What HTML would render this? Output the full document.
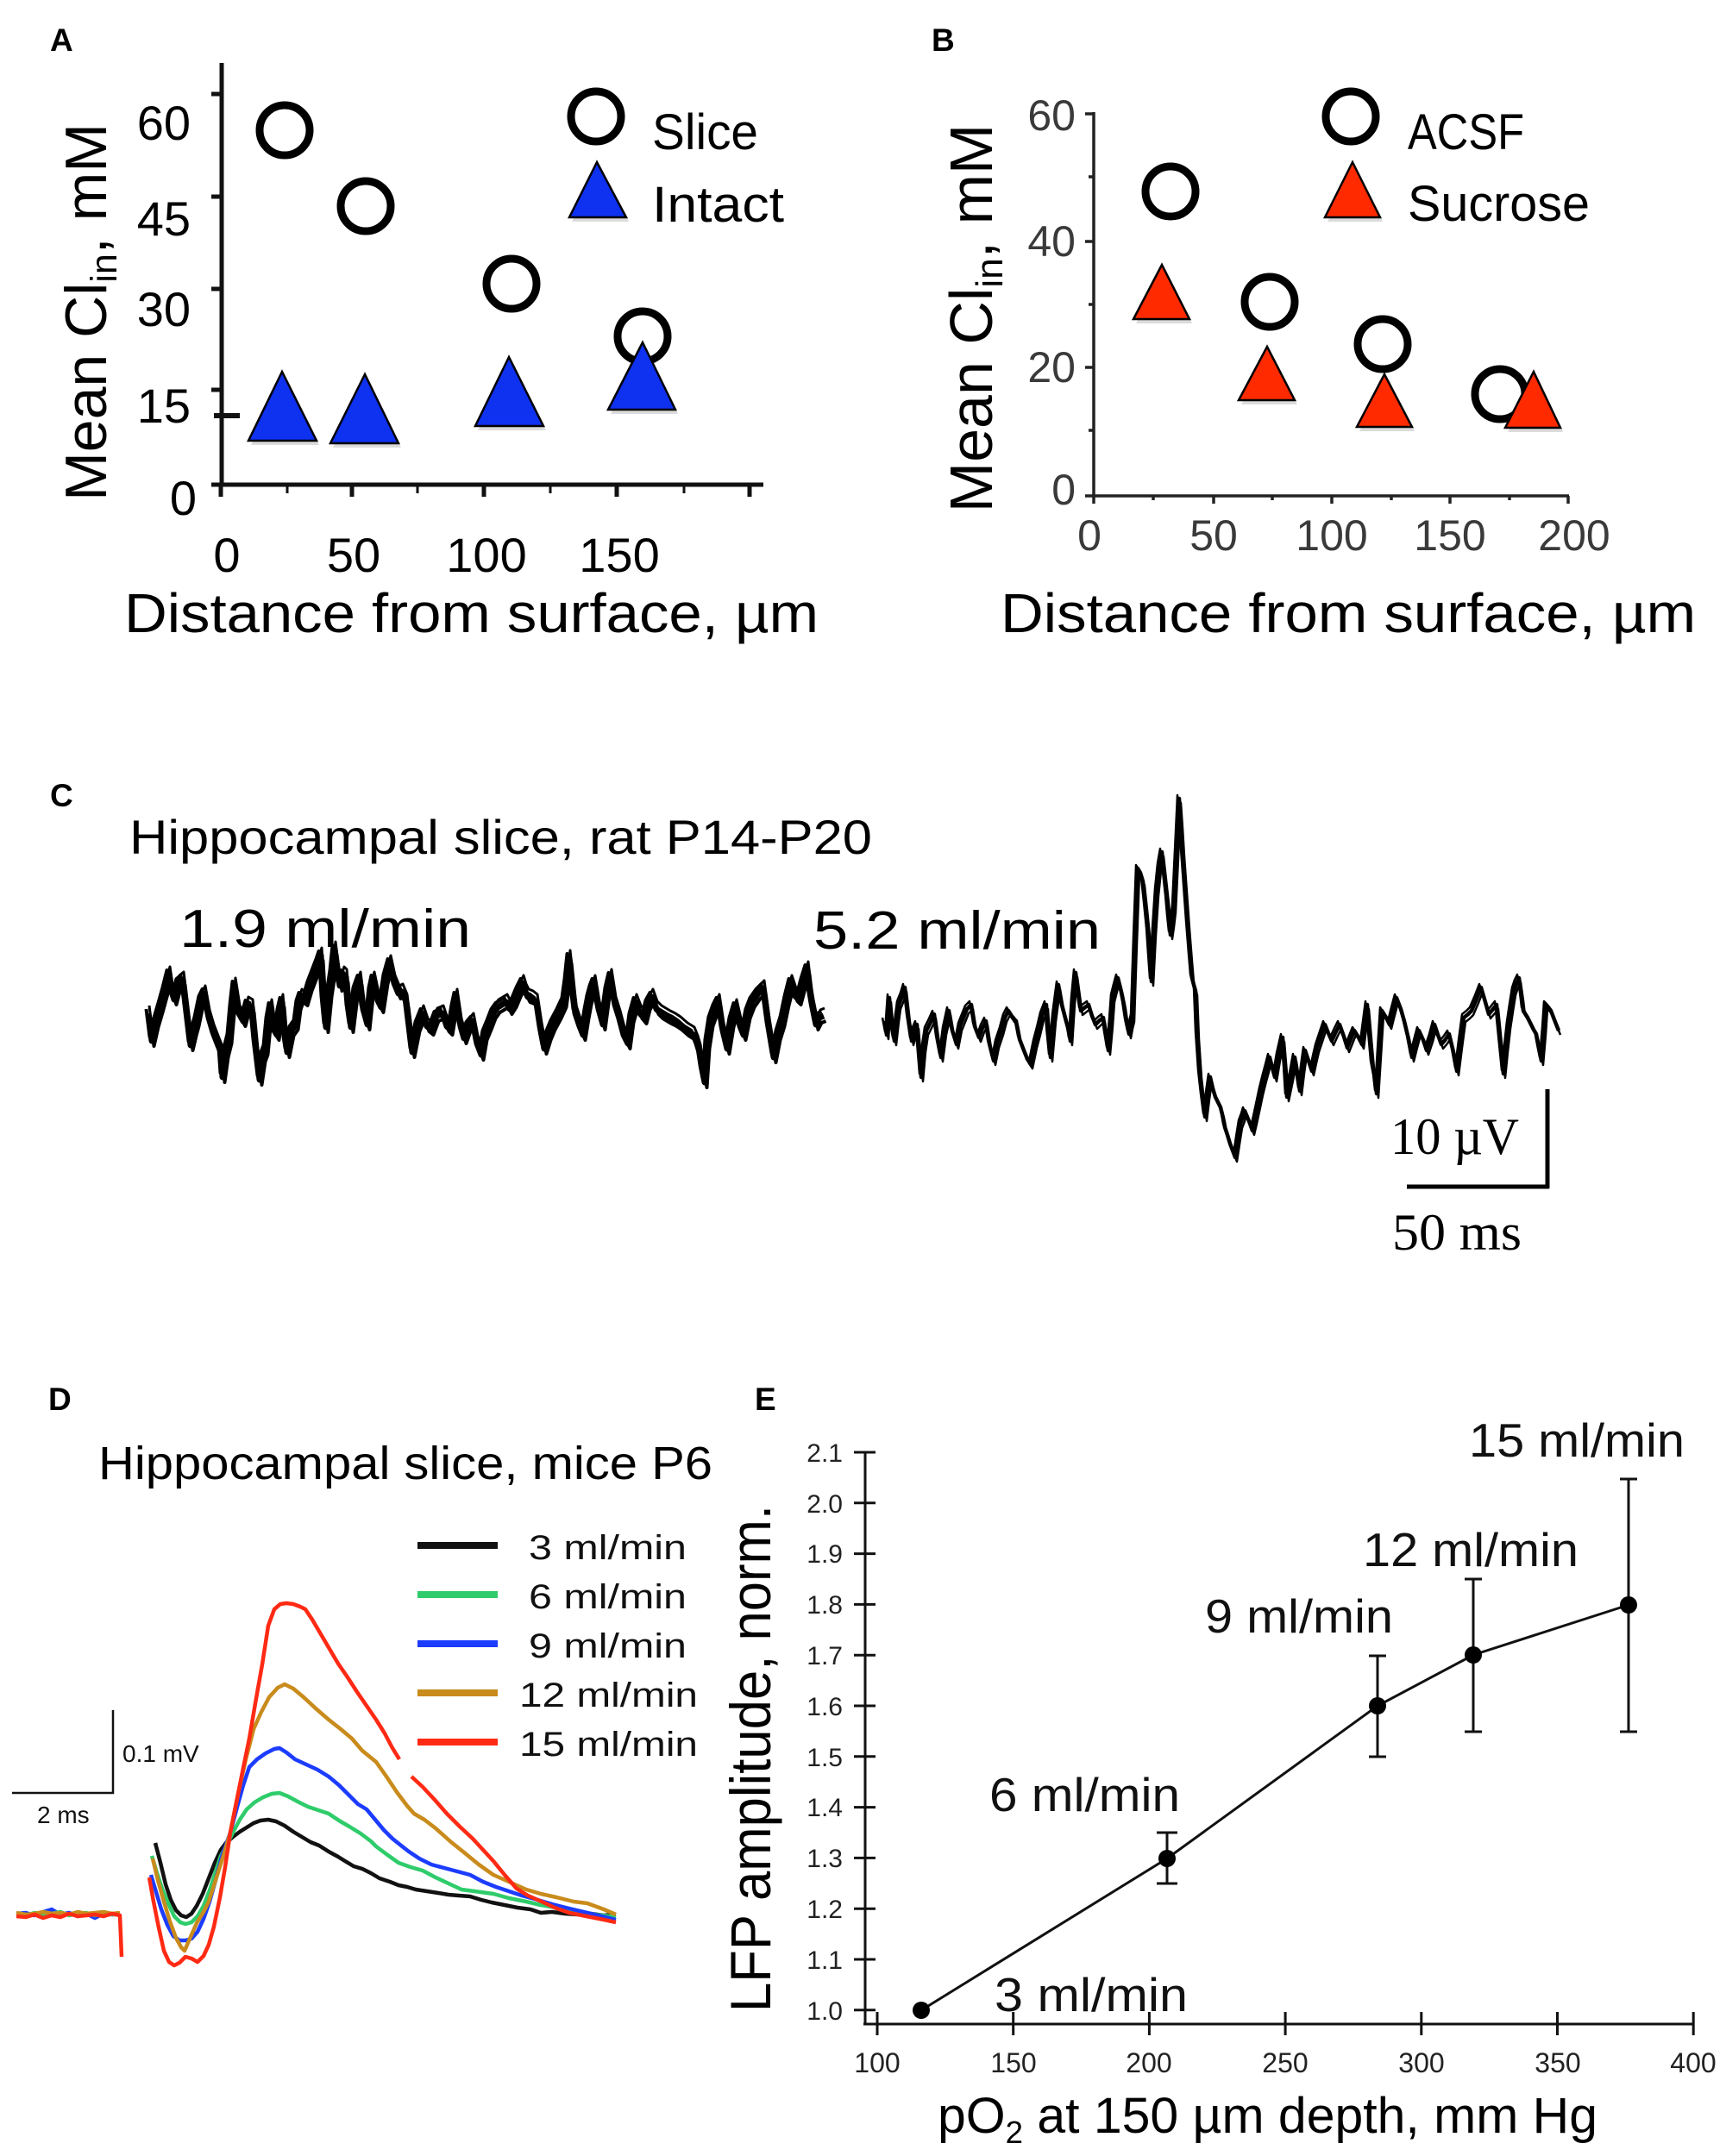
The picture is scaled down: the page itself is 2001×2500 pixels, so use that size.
<!DOCTYPE html>
<html><head><meta charset="utf-8"><style>
html,body{margin:0;padding:0;background:#fff;}
svg{display:block;}
text{font-family:"Liberation Sans",Arial,sans-serif;}
.serif{font-family:"Liberation Serif","Times New Roman",serif;}
</style></head><body>
<svg width="2001" height="2500" viewBox="0 0 2001 2500" xmlns="http://www.w3.org/2000/svg">
<defs>
<path id="tr1" d="M172,1175 L176,1207 L181,1185 L186,1168 L191,1150 L196,1130 L199,1150 L202,1159 L207,1140 L212,1136 L216,1170 L221,1212 L225,1195 L228,1184 L233,1160 L237,1152 L242,1180 L247,1197 L252,1210 L256,1220 L258,1249 L262,1220 L266,1204 L269,1170 L272,1143 L277,1175 L282,1184 L287,1165 L292,1168 L296,1210 L301,1252 L305,1225 L308,1217 L311,1185 L314,1168 L318,1195 L321,1200 L324,1175 L327,1162 L330,1200 L333,1220 L338,1195 L343,1188 L346,1165 L349,1156 L354,1160 L359,1143 L364,1130 L369,1117 L372,1108 L375,1160 L378,1191 L382,1150 L385,1130 L388,1101 L391,1125 L394,1143 L398,1130 L401,1133 L404,1170 L407,1191 L412,1150 L417,1136 L421,1170 L426,1188 L430,1150 L433,1136 L438,1160 L442,1168 L447,1135 L452,1117 L457,1140 L462,1152 L466,1150 L471,1162 L475,1195 L478,1220 L484,1190 L490,1175 L495,1190 L500,1194 L506,1178 L513,1175 L518,1190 L522,1194 L526,1170 L529,1156 L534,1190 L538,1204 L543,1190 L548,1184 L553,1210 L558,1223 L562,1200 L567,1188 L572,1175 L577,1168 L582,1165 L587,1162 L591,1170 L596,1162 L601,1150 L606,1140 L609,1150 L612,1156 L617,1158 L622,1162 L627,1195 L631,1216 L636,1200 L641,1188 L648,1175 L654,1162 L657,1140 L660,1111 L664,1150 L667,1175 L672,1190 L676,1200 L680,1175 L683,1159 L686,1148 L689,1140 L694,1170 L699,1188 L704,1150 L708,1133 L713,1165 L718,1181 L723,1200 L728,1210 L732,1180 L737,1162 L742,1175 L747,1181 L751,1165 L756,1156 L761,1170 L766,1175 L771,1178 L776,1181 L782,1184 L788,1188 L796,1195 L804,1200 L808,1210 L811,1220 L814,1240 L817,1255 L820,1210 L824,1184 L829,1170 L833,1162 L838,1195 L843,1216 L848,1185 L853,1168 L858,1190 L862,1200 L867,1175 L872,1162 L879,1152 L885,1146 L891,1190 L897,1226 L902,1200 L907,1184 L912,1160 L917,1140 L922,1155 L926,1159 L931,1140 L936,1124 L939,1150 L942,1168 L946,1188 L950,1180 L955,1178"/>
<path id="tr2" d="M1025,1184 L1028,1200 L1031,1157 L1034,1190 L1037,1207 L1040,1180 L1042,1165 L1046,1155 L1049,1145 L1053,1180 L1057,1207 L1060,1195 L1063,1188 L1066,1225 L1068,1249 L1071,1215 L1074,1195 L1079,1185 L1083,1176 L1087,1205 L1091,1226 L1095,1195 L1100,1172 L1104,1195 L1109,1211 L1113,1190 L1117,1180 L1121,1170 L1126,1165 L1130,1190 L1135,1203 L1139,1192 L1143,1184 L1147,1210 L1152,1230 L1156,1210 L1161,1195 L1165,1180 L1169,1172 L1174,1180 L1178,1184 L1182,1205 L1187,1218 L1191,1228 L1195,1234 L1200,1210 L1204,1195 L1208,1178 L1213,1165 L1215,1195 L1218,1226 L1222,1180 L1227,1142 L1231,1165 L1236,1184 L1239,1195 L1241,1207 L1244,1160 L1247,1128 L1250,1150 L1253,1172 L1258,1168 L1262,1165 L1266,1178 L1270,1188 L1275,1183 L1279,1180 L1282,1200 L1285,1218 L1288,1185 L1290,1157 L1293,1145 L1296,1134 L1300,1150 L1303,1165 L1306,1185 L1309,1199 L1311,1188 L1313,1180 L1316,1090 L1319,1007 L1322,1012 L1325,1022 L1328,1050 L1331,1080 L1333,1110 L1335,1138 L1338,1080 L1341,1034 L1344,1005 L1347,988 L1350,1015 L1353,1042 L1355,1065 L1357,1084 L1359,1070 L1361,1053 L1364,990 L1367,926 L1369,955 L1371,988 L1374,1030 L1377,1072 L1380,1110 L1382,1134 L1384,1142 L1386,1149 L1388,1200 L1391,1245 L1394,1272 L1397,1295 L1400,1270 L1403,1249 L1406,1262 L1409,1272 L1412,1278 L1415,1284 L1418,1296 L1420,1307 L1423,1316 L1426,1326 L1429,1334 L1432,1342 L1435,1322 L1438,1303 L1441,1295 L1443,1288 L1448,1300 L1452,1311 L1455,1298 L1458,1284 L1462,1265 L1466,1249 L1469,1238 L1472,1226 L1475,1238 L1478,1249 L1482,1225 L1487,1203 L1490,1240 L1492,1272 L1497,1248 L1501,1226 L1504,1245 L1507,1265 L1510,1240 L1513,1218 L1517,1230 L1521,1242 L1524,1228 L1527,1215 L1532,1200 L1536,1188 L1540,1198 L1544,1207 L1549,1196 L1553,1188 L1558,1202 L1562,1215 L1566,1205 L1570,1195 L1575,1203 L1579,1211 L1582,1188 L1585,1165 L1588,1200 L1591,1234 L1594,1250 L1596,1268 L1599,1220 L1602,1172 L1607,1180 L1611,1188 L1615,1172 L1619,1157 L1624,1170 L1628,1184 L1633,1205 L1637,1226 L1641,1210 L1645,1195 L1650,1206 L1654,1218 L1659,1203 L1663,1188 L1667,1200 L1671,1211 L1676,1205 L1680,1199 L1685,1220 L1689,1242 L1693,1210 L1697,1180 L1702,1176 L1706,1172 L1712,1158 L1717,1145 L1722,1162 L1726,1176 L1731,1170 L1735,1165 L1739,1205 L1743,1245 L1746,1215 L1749,1188 L1752,1168 L1755,1149 L1758,1140 L1761,1134 L1764,1155 L1766,1172 L1771,1180 L1775,1188 L1778,1194 L1781,1199 L1784,1215 L1787,1230 L1790,1195 L1792,1165 L1795,1168 L1798,1172 L1803,1185 L1807,1195"/>
</defs>
<rect width="2001" height="2500" fill="#fff"/>

<!-- Panel labels -->
<g font-weight="bold" font-size="37" fill="#000">
<text x="58" y="59">A</text>
<text x="1080" y="59">B</text>
<text x="58" y="935">C</text>
<text x="56" y="1635">D</text>
<text x="875" y="1635">E</text>
</g>

<!-- ============ PANEL A ============ -->
<g stroke="#111" stroke-width="5" fill="none">
<line x1="257" y1="73" x2="257" y2="564"/>
<line x1="255" y1="562" x2="885" y2="562"/>
<line x1="245" y1="109" x2="259" y2="109"/>
<line x1="245" y1="228" x2="259" y2="228"/>
<line x1="245" y1="335" x2="259" y2="335"/>
<line x1="245" y1="452" x2="259" y2="452"/>
<line x1="245" y1="562" x2="259" y2="562"/>
<line x1="248" y1="482" x2="278" y2="482" stroke-width="6"/>
<line x1="256" y1="562" x2="256" y2="576"/>
<line x1="408" y1="562" x2="408" y2="576"/>
<line x1="561" y1="562" x2="561" y2="576"/>
<line x1="715" y1="562" x2="715" y2="576"/>
<line x1="869" y1="562" x2="869" y2="576"/>
<line x1="333" y1="562" x2="333" y2="572" stroke-width="3"/>
<line x1="484" y1="562" x2="484" y2="572" stroke-width="3"/>
<line x1="638" y1="562" x2="638" y2="572" stroke-width="3"/>
<line x1="793" y1="562" x2="793" y2="572" stroke-width="3"/>
</g>
<g font-size="56" fill="#000" text-anchor="end">
<text x="221" y="162">60</text>
<text x="221" y="273">45</text>
<text x="221" y="378">30</text>
<text x="221" y="490">15</text>
<text x="228" y="597">0</text>
</g>
<g font-size="56" fill="#000" text-anchor="middle">
<text x="263" y="663">0</text>
<text x="410" y="663">50</text>
<text x="564" y="663">100</text>
<text x="718" y="663">150</text>
</g>
<text x="144" y="733" font-size="64" textLength="805" lengthAdjust="spacingAndGlyphs">Distance from surface, µm</text>
<text transform="translate(123,362) rotate(-90)" text-anchor="middle" font-size="68">Mean Cl<tspan font-size="43" dy="12">in</tspan><tspan dy="-12">, mM</tspan></text>

<g fill="none" stroke="#000" stroke-width="9">
<circle cx="330" cy="151" r="29"/>
<circle cx="424" cy="239" r="29"/>
<circle cx="593" cy="329" r="29"/>
<circle cx="745" cy="390" r="29"/>
<circle cx="691" cy="135" r="29"/>
</g>
<g fill="#999" opacity="0.35">
<polygon points="330,436 291,516 370,516"/>
<polygon points="426,439 386,519 465,519"/>
<polygon points="593,419 554,499 633,499"/>
<polygon points="748,402 708,480 786,480"/>
<polygon points="695,193 663,257 729,257"/>
</g>
<g fill="#0f31f0" stroke="#000" stroke-width="2.5" stroke-linejoin="miter">
<polygon points="327,431 288,511 367,511"/>
<polygon points="423,434 383,514 462,514"/>
<polygon points="590,414 551,494 630,494"/>
<polygon points="745,397 705,475 783,475"/>
<polygon points="692,188 660,252 726,252"/>
</g>
<text x="756" y="173" font-size="58" textLength="123" lengthAdjust="spacingAndGlyphs">Slice</text>
<text x="756" y="257" font-size="58" textLength="153" lengthAdjust="spacingAndGlyphs">Intact</text>

<!-- ============ PANEL B ============ -->
<g stroke="#222" stroke-width="3.5" fill="none">
<line x1="1268" y1="130" x2="1268" y2="577"/>
<line x1="1266" y1="575" x2="1819" y2="575"/>
<line x1="1258" y1="132" x2="1268" y2="132"/>
<line x1="1258" y1="280" x2="1268" y2="280"/>
<line x1="1258" y1="426" x2="1268" y2="426"/>
<line x1="1258" y1="575" x2="1268" y2="575"/>
<line x1="1262" y1="205" x2="1268" y2="205"/>
<line x1="1262" y1="353" x2="1268" y2="353"/>
<line x1="1262" y1="499" x2="1268" y2="499"/>
<line x1="1268" y1="575" x2="1268" y2="584"/>
<line x1="1407" y1="575" x2="1407" y2="584"/>
<line x1="1544" y1="575" x2="1544" y2="584"/>
<line x1="1681" y1="575" x2="1681" y2="584"/>
<line x1="1818" y1="575" x2="1818" y2="584"/>
<line x1="1337" y1="575" x2="1337" y2="580"/>
<line x1="1475" y1="575" x2="1475" y2="580"/>
<line x1="1613" y1="575" x2="1613" y2="580"/>
<line x1="1750" y1="575" x2="1750" y2="580"/>
</g>
<g font-size="50" fill="#3a3a3a" text-anchor="end">
<text x="1247" y="151">60</text>
<text x="1247" y="297">40</text>
<text x="1247" y="443">20</text>
<text x="1247" y="585">0</text>
</g>
<g font-size="50" fill="#3a3a3a" text-anchor="middle">
<text x="1263" y="638">0</text>
<text x="1407" y="638">50</text>
<text x="1544" y="638">100</text>
<text x="1681" y="638">150</text>
<text x="1825" y="638">200</text>
</g>
<text x="1160" y="733" font-size="64" textLength="806" lengthAdjust="spacingAndGlyphs">Distance from surface, µm</text>
<text transform="translate(1150,369) rotate(-90)" text-anchor="middle" font-size="70">Mean Cl<tspan font-size="44" dy="12">in</tspan><tspan dy="-12">, mM</tspan></text>

<g fill="none" stroke="#000" stroke-width="9">
<circle cx="1357" cy="222" r="29"/>
<circle cx="1472" cy="350" r="29"/>
<circle cx="1603" cy="399" r="29"/>
<circle cx="1739" cy="457" r="29"/>
<circle cx="1566" cy="135" r="29"/>
</g>
<g fill="#999" opacity="0.35">
<polygon points="1350,312 1317,375 1382,375"/>
<polygon points="1472,407 1439,469 1504,469"/>
<polygon points="1608,439 1576,500 1640,500"/>
<polygon points="1781,436 1748,501 1812,501"/>
<polygon points="1571,193 1539,257 1603,257"/>
</g>
<g fill="#ff2a00" stroke="#000" stroke-width="2.5">
<polygon points="1347,307 1314,370 1379,370"/>
<polygon points="1469,402 1436,464 1501,464"/>
<polygon points="1605,434 1573,495 1637,495"/>
<polygon points="1778,431 1745,496 1809,496"/>
<polygon points="1568,188 1536,252 1600,252"/>
</g>
<text x="1632" y="173" font-size="58" textLength="135" lengthAdjust="spacingAndGlyphs">ACSF</text>
<text x="1632" y="256" font-size="58" textLength="211" lengthAdjust="spacingAndGlyphs">Sucrose</text>

<!-- ============ PANEL C ============ -->
<text x="150" y="990" font-size="56" textLength="861" lengthAdjust="spacingAndGlyphs">Hippocampal slice, rat P14-P20</text>
<text x="208" y="1098" font-size="62" textLength="338" lengthAdjust="spacingAndGlyphs">1.9 ml/min</text>
<text x="943" y="1100" font-size="62" textLength="333" lengthAdjust="spacingAndGlyphs">5.2 ml/min</text>

<g fill="none" stroke="#000" stroke-linejoin="round">
<use href="#tr1" stroke-width="7"/>
<use href="#tr1" stroke-width="4" transform="translate(2.5,6)"/>
<use href="#tr1" stroke-width="4" transform="translate(-2.5,-5)"/>
<use href="#tr1" stroke-width="3" transform="translate(1,-9) scale(1,1)"/>
<use href="#tr2" stroke-width="4.5"/>
<use href="#tr2" stroke-width="2.5" transform="translate(2,5)"/>
<use href="#tr2" stroke-width="2.5" transform="translate(-2,-4)"/>
</g>

<g stroke="#000" stroke-width="5" fill="none">
<line x1="1794" y1="1263" x2="1794" y2="1378"/>
<line x1="1631" y1="1376" x2="1796" y2="1376"/>
</g>
<text class="serif" x="1612" y="1338" font-size="60" textLength="149" lengthAdjust="spacingAndGlyphs">10 µV</text>
<text class="serif" x="1614" y="1449" font-size="60" textLength="150" lengthAdjust="spacingAndGlyphs">50 ms</text>

<!-- ============ PANEL D ============ -->
<text x="114" y="1715" font-size="54" textLength="712" lengthAdjust="spacingAndGlyphs">Hippocampal slice, mice P6</text>
<g stroke-width="8">
<line x1="484" y1="1792" x2="577" y2="1792" stroke="#111"/>
<line x1="484" y1="1849" x2="577" y2="1849" stroke="#2fcc6b"/>
<line x1="484" y1="1906" x2="577" y2="1906" stroke="#1c3cff"/>
<line x1="484" y1="1963" x2="577" y2="1963" stroke="#c98b1c"/>
<line x1="484" y1="2020" x2="577" y2="2020" stroke="#ff2a14"/>
</g>
<g font-size="40" fill="#111">
<text x="613" y="1808" textLength="183" lengthAdjust="spacingAndGlyphs">3 ml/min</text>
<text x="613" y="1865" textLength="183" lengthAdjust="spacingAndGlyphs">6 ml/min</text>
<text x="613" y="1922" textLength="183" lengthAdjust="spacingAndGlyphs">9 ml/min</text>
<text x="602" y="1979" textLength="207" lengthAdjust="spacingAndGlyphs">12 ml/min</text>
<text x="602" y="2036" textLength="207" lengthAdjust="spacingAndGlyphs">15 ml/min</text>
</g>
<g stroke="#111" stroke-width="2.5" fill="none">
<line x1="131" y1="1983" x2="131" y2="2080"/>
<line x1="14" y1="2079" x2="132" y2="2079"/>
</g>
<text x="142" y="2043" font-size="28" fill="#111">0.1 mV</text>
<text x="43" y="2114" font-size="28" fill="#111">2 ms</text>

<g fill="none" stroke-width="4.5" stroke-linejoin="round">
<path stroke="#1c3cff" d="M19,2219 L30,2218 L40,2221 L50,2217 L60,2214 L70,2220 L80,2218 L90,2222 L100,2219 L110,2224 L120,2219 L130,2220 L139,2219"/>
<path stroke="#2fcc6b" d="M19,2220 L30,2221 L40,2218 L50,2220 L60,2219 L70,2217 L80,2221 L90,2219 L100,2218 L110,2221 L120,2218 L130,2220 L139,2220"/>
<path stroke="#c98b1c" d="M19,2218 L30,2220 L40,2219 L50,2217 L60,2219 L70,2218 L80,2220 L90,2217 L100,2219 L110,2218 L120,2217 L130,2219 L139,2218"/>
<path stroke="#ff2a14" d="M19,2222 L30,2223 L40,2220 L50,2224 L60,2221 L70,2223 L80,2219 L90,2222 L100,2221 L110,2220 L120,2222 L130,2219 L139,2221 L141,2269"/>

<path stroke="#111" d="M180,2137 L186,2160 L192,2185 L198,2203 L204,2215 L210,2221 L216,2223 L222,2219 L228,2210 L235,2196 L242,2178 L249,2160 L256,2145 L262,2137 L270,2130 L278,2124 L286,2119 L294,2114 L302,2111 L311,2110 L320,2112 L330,2117 L340,2124 L350,2130 L360,2136 L370,2140 L381,2147 L392,2153 L400,2158 L410,2164 L420,2167 L430,2172 L440,2178 L452,2182 L462,2186 L472,2188 L482,2191 L495,2193 L508,2195 L520,2197 L532,2198 L545,2199 L558,2203 L570,2206 L585,2209 L600,2212 L615,2214 L627,2218 L640,2217 L655,2219 L670,2220 L685,2219 L700,2221 L714,2220"/>
<path stroke="#2fcc6b" d="M176,2152 L182,2172 L188,2190 L195,2207 L202,2222 L209,2229 L215,2231 L222,2229 L229,2222 L236,2210 L243,2192 L250,2170 L256,2152 L262,2141 L270,2125 L278,2110 L286,2098 L295,2090 L305,2084 L315,2080 L324,2079 L334,2083 L345,2089 L357,2095 L369,2099 L381,2103 L393,2111 L405,2118 L418,2126 L430,2135 L436,2141 L448,2150 L462,2160 L476,2165 L490,2169 L505,2177 L520,2184 L535,2191 L550,2193 L572,2196 L590,2201 L610,2205 L627,2209 L645,2212 L665,2216 L690,2220 L714,2223"/>
<path stroke="#1c3cff" d="M175,2174 L181,2194 L187,2214 L194,2232 L201,2245 L208,2250 L215,2250 L222,2248 L229,2240 L236,2225 L243,2205 L250,2180 L258,2150 L267,2125 L275,2095 L282,2070 L289,2049 L298,2040 L308,2033 L318,2028 L324,2027 L332,2032 L342,2040 L355,2046 L368,2052 L381,2060 L393,2070 L405,2082 L415,2092 L425,2098 L435,2110 L445,2122 L455,2132 L465,2140 L474,2147 L486,2155 L500,2162 L515,2166 L530,2170 L545,2174 L560,2182 L575,2188 L590,2193 L605,2198 L620,2202 L640,2208 L660,2213 L685,2219 L714,2226"/>
<path stroke="#c98b1c" d="M177,2155 L183,2180 L190,2205 L197,2228 L204,2247 L210,2258 L214,2262 L220,2248 L228,2230 L236,2217 L242,2205 L250,2180 L258,2155 L267,2125 L276,2080 L285,2040 L294,2005 L303,1985 L312,1968 L322,1957 L330,1953 L340,1958 L352,1968 L366,1981 L381,1994 L395,2005 L408,2016 L420,2030 L436,2043 L448,2060 L460,2078 L472,2094 L480,2103 L492,2110 L505,2120 L523,2136 L538,2148 L555,2162 L572,2174 L590,2182 L610,2191 L627,2196 L645,2200 L665,2205 L681,2207 L700,2214 L714,2220"/>
<path stroke="#ff2a14" d="M173,2177 L178,2205 L184,2235 L190,2262 L196,2275 L202,2279 L208,2276 L215,2269 L222,2271 L229,2275 L236,2268 L242,2255 L248,2234 L255,2200 L261,2165 L267,2125 L274,2090 L281,2055 L289,2016 L296,1975 L304,1930 L311,1885 L318,1866 L325,1860 L332,1859 L340,1860 L348,1863 L354,1866 L362,1878 L372,1895 L382,1912 L392,1929 L403,1945 L414,1962 L425,1978 L436,1994 L446,2010 L455,2027 L463,2040 M477,2060 L490,2072 L504,2087 L518,2103 L533,2118 L548,2132 L560,2145 L572,2158 L585,2174 L599,2190 L612,2198 L628,2205 L643,2212 L660,2218 L680,2222 L700,2226 L714,2229"/>
</g>

<!-- ============ PANEL E ============ -->
<g stroke="#111" stroke-width="3" fill="none">
<line x1="1003" y1="1684" x2="1003" y2="2348"/>
<line x1="1001" y1="2347" x2="1964" y2="2347"/>
<line x1="990" y1="1684" x2="1015" y2="1684"/>
<line x1="990" y1="1742.8" x2="1015" y2="1742.8"/>
<line x1="990" y1="1801.6" x2="1015" y2="1801.6"/>
<line x1="990" y1="1860.4" x2="1015" y2="1860.4"/>
<line x1="990" y1="1919.2" x2="1015" y2="1919.2"/>
<line x1="990" y1="1978" x2="1015" y2="1978"/>
<line x1="990" y1="2036.8" x2="1015" y2="2036.8"/>
<line x1="990" y1="2095.6" x2="1015" y2="2095.6"/>
<line x1="990" y1="2154.4" x2="1015" y2="2154.4"/>
<line x1="990" y1="2213.2" x2="1015" y2="2213.2"/>
<line x1="990" y1="2272" x2="1015" y2="2272"/>
<line x1="990" y1="2330.8" x2="1015" y2="2330.8"/>
<line x1="1017" y1="2333" x2="1017" y2="2360"/>
<line x1="1174.7" y1="2333" x2="1174.7" y2="2360"/>
<line x1="1332.4" y1="2333" x2="1332.4" y2="2360"/>
<line x1="1490.1" y1="2333" x2="1490.1" y2="2360"/>
<line x1="1647.8" y1="2333" x2="1647.8" y2="2360"/>
<line x1="1805.5" y1="2333" x2="1805.5" y2="2360"/>
<line x1="1963.2" y1="2333" x2="1963.2" y2="2360"/>
</g>
<g font-size="30" fill="#222" text-anchor="end">
<text x="977" y="1695">2.1</text>
<text x="977" y="1754">2.0</text>
<text x="977" y="1812">1.9</text>
<text x="977" y="1871">1.8</text>
<text x="977" y="1930">1.7</text>
<text x="977" y="1989">1.6</text>
<text x="977" y="2048">1.5</text>
<text x="977" y="2106">1.4</text>
<text x="977" y="2165">1.3</text>
<text x="977" y="2224">1.2</text>
<text x="977" y="2283">1.1</text>
<text x="977" y="2342">1.0</text>
</g>
<g font-size="32" fill="#222" text-anchor="middle">
<text x="1017" y="2403">100</text>
<text x="1175" y="2403">150</text>
<text x="1332" y="2403">200</text>
<text x="1490" y="2403">250</text>
<text x="1648" y="2403">300</text>
<text x="1806" y="2403">350</text>
<text x="1963" y="2403">400</text>
</g>
<text x="1087" y="2473" font-size="58" textLength="765" lengthAdjust="spacingAndGlyphs">pO<tspan font-size="36" dy="12">2</tspan><tspan dy="-12"> at 150 µm depth, mm Hg</tspan></text>
<text transform="translate(893,2039) rotate(-90)" text-anchor="middle" font-size="66" textLength="588" lengthAdjust="spacingAndGlyphs">LFP amplitude, norm.</text>

<g stroke="#111" stroke-width="3" fill="none">
<polyline points="1068,2331 1353,2155 1597,1978 1708,1919 1888,1861"/>
<line x1="1353" y1="2125" x2="1353" y2="2184"/>
<line x1="1341" y1="2125" x2="1365" y2="2125"/>
<line x1="1341" y1="2184" x2="1365" y2="2184"/>
<line x1="1597" y1="1920" x2="1597" y2="2037"/>
<line x1="1587" y1="1920" x2="1607" y2="1920"/>
<line x1="1587" y1="2037" x2="1607" y2="2037"/>
<line x1="1708" y1="1831" x2="1708" y2="2008"/>
<line x1="1698" y1="1831" x2="1718" y2="1831"/>
<line x1="1698" y1="2008" x2="1718" y2="2008"/>
<line x1="1888" y1="1715" x2="1888" y2="2008"/>
<line x1="1878" y1="1715" x2="1898" y2="1715"/>
<line x1="1878" y1="2008" x2="1898" y2="2008"/>
</g>
<g fill="#000">
<circle cx="1068" cy="2331" r="10"/>
<circle cx="1353" cy="2155" r="10"/>
<circle cx="1597" cy="1978" r="10"/>
<circle cx="1708" cy="1919" r="10"/>
<circle cx="1888" cy="1861" r="10"/>
</g>
<g font-size="55" fill="#111">
<text x="1153" y="2332" textLength="224" lengthAdjust="spacingAndGlyphs">3 ml/min</text>
<text x="1147" y="2100" textLength="221" lengthAdjust="spacingAndGlyphs">6 ml/min</text>
<text x="1397" y="1893" textLength="218" lengthAdjust="spacingAndGlyphs">9 ml/min</text>
<text x="1580" y="1816" textLength="250" lengthAdjust="spacingAndGlyphs">12 ml/min</text>
<text x="1703" y="1689" textLength="250" lengthAdjust="spacingAndGlyphs">15 ml/min</text>
</g>
</svg>
</body></html>
